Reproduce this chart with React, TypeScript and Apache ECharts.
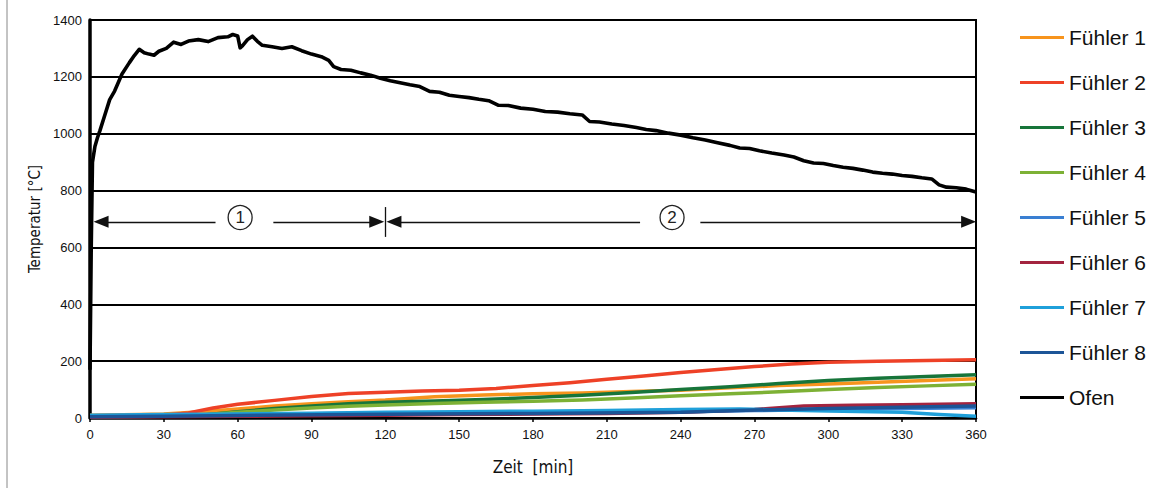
import React, { useEffect, useRef } from "react";
import * as echarts from "echarts";

// Time [min] / temperature [°C] pairs
const ofen: [number, number][] = [
  [0, 170], [0.5, 600], [1, 900], [2, 955], [3, 985], [4, 1010], [6, 1065], [8, 1120], [10, 1150],
  [13, 1210], [16, 1250], [18, 1275], [20, 1297], [22, 1285], [24, 1280], [26, 1276], [28, 1290],
  [31, 1300], [34, 1322], [37, 1314], [40, 1326], [44, 1331], [48, 1324], [52, 1338], [56, 1341],
  [58, 1349], [60, 1344], [61, 1302], [62, 1310], [64, 1331], [66, 1343], [68, 1325], [70, 1311],
  [74, 1306], [78, 1300], [82, 1306], [86, 1292], [90, 1280], [94, 1271], [97, 1258], [99, 1236],
  [102, 1226], [106, 1223], [110, 1214], [114, 1206], [118, 1195], [122, 1186], [126, 1179],
  [130, 1172], [134, 1166], [138, 1149], [142, 1146], [146, 1135], [150, 1131], [154, 1127],
  [158, 1121], [162, 1116], [166, 1100], [170, 1099], [175, 1090], [180, 1086], [185, 1078],
  [190, 1076], [195, 1070], [200, 1066], [203, 1043], [207, 1041], [212, 1034], [217, 1029],
  [222, 1022], [226, 1015], [230, 1011], [235, 1002], [240, 995], [245, 986], [250, 978],
  [255, 968], [260, 959], [264, 950], [268, 948], [272, 940], [277, 932], [282, 925], [286, 918],
  [290, 905], [294, 897], [298, 895], [302, 888], [306, 882], [310, 878], [314, 872], [318, 865],
  [322, 861], [326, 858], [330, 853], [334, 850], [338, 845], [342, 841], [345, 820], [348, 812],
  [352, 810], [356, 805], [360, 795],
];
const fuehler1: [number, number][] = [
  [0, 10], [20, 12], [30, 14], [45, 22], [60, 32], [75, 42], [90, 50], [105, 57], [120, 63],
  [140, 75], [160, 81], [180, 85], [200, 88], [220, 93], [240, 98], [260, 106], [280, 114],
  [300, 120], [320, 126], [340, 132], [360, 138],
];
const fuehler2: [number, number][] = [
  [0, 8], [30, 10], [40, 18], [50, 35], [60, 48], [75, 62], [90, 76], [105, 86], [120, 91],
  [135, 95], [150, 98], [165, 104], [180, 114], [195, 124], [210, 136], [225, 148], [240, 160],
  [255, 171], [270, 181], [285, 190], [300, 196], [320, 200], [340, 202], [360, 205],
];
const fuehler3: [number, number][] = [
  [0, 5], [30, 6], [45, 10], [60, 22], [75, 33], [90, 42], [105, 50], [120, 55], [140, 60],
  [160, 65], [180, 72], [200, 80], [220, 90], [240, 100], [260, 110], [280, 121], [300, 132],
  [320, 140], [340, 146], [360, 152],
];
const fuehler4: [number, number][] = [
  [0, 4], [30, 6], [45, 10], [60, 20], [75, 28], [90, 35], [105, 41], [120, 46], [140, 51],
  [160, 55], [180, 59], [200, 63], [220, 70], [240, 78], [260, 85], [280, 92], [300, 100],
  [320, 107], [340, 113], [360, 119],
];
const fuehler5: [number, number][] = [
  [0, 6], [30, 8], [60, 12], [90, 15], [120, 17], [150, 18], [180, 19], [210, 20], [240, 22],
  [270, 26], [300, 30], [330, 33], [360, 36],
];
const fuehler6: [number, number][] = [
  [0, 3], [30, 4], [60, 6], [90, 8], [120, 10], [150, 12], [180, 14], [210, 16], [240, 20],
  [270, 30], [290, 42], [310, 45], [330, 47], [360, 50],
];
const fuehler7: [number, number][] = [
  [0, 10], [30, 12], [60, 14], [90, 17], [120, 20], [150, 22], [180, 24], [210, 26], [240, 30],
  [264, 32], [280, 28], [300, 25], [330, 20], [345, 12], [360, 6],
];
const fuehler8: [number, number][] = [
  [0, 4], [30, 6], [60, 9], [120, 13], [180, 16], [240, 20], [270, 28], [300, 33], [330, 38],
  [360, 42],
];

const seriesNames = [
  "Fühler 1", "Fühler 2", "Fühler 3", "Fühler 4", "Fühler 5", "Fühler 6", "Fühler 7", "Fühler 8", "Ofen",
];
const seriesColors = [
  "#F7941D", "#EE4127", "#17753A", "#7DB135", "#3A7FD2", "#A3243F", "#1FA0DA", "#1C5597", "#000000",
];
const seriesData = [fuehler1, fuehler2, fuehler3, fuehler4, fuehler5, fuehler6, fuehler7, fuehler8, ofen];

const xTicks = { min: 0, max: 360, interval: 30 };
const yTicks = { min: 0, max: 1400, interval: 200 };

// Phase annotations (minutes / °C)
const arrowLevel = 690;
const labelLevel = 705;
const phaseBoundary = 120;

export default function App() {
  const ref = useRef<HTMLDivElement>(null);

  useEffect(() => {
    if (!ref.current) return;
    const chart = echarts.init(ref.current, undefined, { renderer: "svg" });
    const tickFont = "'Liberation Sans', Arial, sans-serif";
    const condFont = "'DejaVu Sans Condensed', 'Liberation Sans Narrow', sans-serif";

    const seg = (a: number, b: number, s1: string, s2: string) => [
      { coord: [a, arrowLevel], symbol: s1 },
      { coord: [b, arrowLevel], symbol: s2 },
    ];

    const series: any[] = seriesNames.map((name, i) => ({
      name,
      type: "line",
      data: seriesData[i],
      symbol: "none",
      smooth: false,
      lineStyle: { color: seriesColors[i], width: i === 8 ? 3.6 : 3.5, join: "round" },
      itemStyle: { color: seriesColors[i] },
      z: i === 8 ? 3 : 2,
    }));

    series[8].markLine = {
      silent: true,
      symbol: ["none", "none"],
      symbolSize: [12, 15],
      label: { show: false },
      lineStyle: { color: "#111", width: 1.3, type: "solid" },
      data: [
        seg(4.5, 51, "triangle", "none"),
        seg(74.5, 116.5, "none", "triangle"),
        seg(123.5, 223.5, "triangle", "none"),
        seg(248, 357, "none", "triangle"),
        [
          { coord: [phaseBoundary, 742], symbol: "none" },
          { coord: [phaseBoundary, 637], symbol: "none" },
        ],
      ],
    };
    series[8].markPoint = {
      silent: true,
      symbol: "circle",
      symbolSize: 24,
      itemStyle: { color: "#fff", borderColor: "#222", borderWidth: 1.3 },
      label: {
        show: true,
        position: "inside",
        color: "#222",
        fontSize: 17,
        fontFamily: tickFont,
      },
      data: [
        { coord: [61, labelLevel], value: 1, label: { formatter: "1" } },
        { coord: [236.5, labelLevel], value: 2, label: { formatter: "2" } },
      ],
    };

    chart.setOption({
      animation: false,
      backgroundColor: "#fff",
      grid: {
        left: 90,
        right: 193,
        top: 20,
        bottom: 70,
        show: true,
        borderColor: "#000",
        borderWidth: 2,
        backgroundColor: "transparent",
      },
      legend: {
        orient: "vertical",
        left: 1015,
        top: 22,
        itemWidth: 44,
        itemHeight: 3,
        itemGap: 24,
        icon: "rect",
        data: seriesNames,
        textStyle: { fontSize: 21, color: "#111", fontFamily: tickFont },
        selectedMode: false,
      },
      xAxis: {
        type: "value",
        min: xTicks.min,
        max: xTicks.max,
        interval: xTicks.interval,
        name: "Zeit  [min]",
        nameLocation: "middle",
        nameGap: 40,
        nameTextStyle: { fontSize: 17, color: "#111", fontFamily: condFont, verticalAlign: "top" },
        axisLine: { show: true, lineStyle: { color: "#000", width: 2.5 } },
        axisTick: { show: true, length: 4, lineStyle: { color: "#000", width: 1.5 } },
        axisLabel: { fontSize: 13, color: "#111", margin: 10, fontFamily: tickFont },
        splitLine: { show: false },
      },
      yAxis: {
        type: "value",
        min: yTicks.min,
        max: yTicks.max,
        interval: yTicks.interval,
        name: "Temperatur [°C]",
        nameLocation: "middle",
        nameGap: 43,
        nameTextStyle: { fontSize: 15, color: "#111", fontFamily: condFont },
        axisLine: { show: true, lineStyle: { color: "#000", width: 3.5 } },
        axisTick: { show: false },
        axisLabel: {
          fontSize: 13,
          color: "#111",
          margin: 8,
          fontFamily: tickFont,
          formatter: (v: number) => String(v),
        },
        splitLine: { show: true, lineStyle: { color: "#000", width: 2 } },
      },
      graphic: [
        {
          type: "line",
          shape: { x1: 7, y1: 0, x2: 7, y2: 488 },
          style: { stroke: "#888", lineWidth: 1 },
          silent: true,
        },
      ],
      series,
    });
    return () => chart.dispose();
  }, []);

  return (
    <div
      ref={ref}
      style={{ position: "fixed", left: 0, top: 0, width: 1169, height: 488, background: "#fff" }}
    />
  );
}
